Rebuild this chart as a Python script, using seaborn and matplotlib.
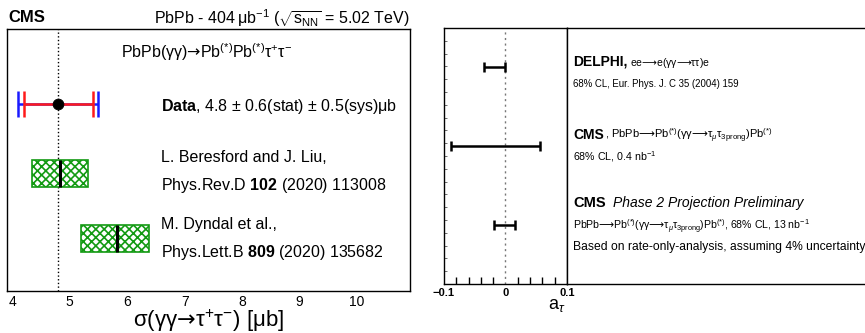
import matplotlib

matplotlib.use("Agg")

import matplotlib.pyplot as plt
import numpy as np
import pandas as pd
import seaborn as sns

# left panel: sigma(gamma gamma -> tau tau) in microbarn
DATA_LABEL = "Data"
DATA_VALUE = 4.8
DATA_STAT = [4.2, 5.4]
DATA_TOTAL = [4.1, 5.5]
THEORY_NAMES = ["Beresford-Liu", "Dyndal"]
THEORY_CENTRAL = [4.83, 5.82]
THEORY_LOW = [4.35, 5.2]
THEORY_HIGH = [5.32, 6.38]
SIGMA_TICKS = [4, 5, 6, 7, 8, 9, 10]

# right panel: a_tau 68% CL intervals
ATAU_NAMES = ["DELPHI", "CMS", "CMS Phase 2"]
ATAU_LOW = [-0.035, -0.088, -0.018]
ATAU_HIGH = [0.0, 0.056, 0.016]
ATAU_TICKS = [-0.1, 0.0, 0.1]
ATAU_TICKLABELS = ["\u22120.1", "0", "0.1"]

W, H = 865, 333
ARROW = "$\\mathsf{\u2192}$"  # DejaVu arrow, Liberation's one is tiny
LARROW = "$\\mathsf{\u27f6}$"


def fx(x):
    return x / W


def fy(y):
    return 1 - y / H


sns.set_theme(style="white")
plt.rcParams["font.family"] = ["Liberation Sans", "DejaVu Sans"]
plt.rcParams["mathtext.fontset"] = "custom"
plt.rcParams["mathtext.rm"] = "Liberation Sans"
plt.rcParams["mathtext.it"] = "Liberation Sans:italic"
plt.rcParams["mathtext.bf"] = "Liberation Sans:bold"
plt.rcParams["mathtext.sf"] = "DejaVu Sans"
plt.rcParams["hatch.linewidth"] = 1.2
for key in ["text.color", "axes.labelcolor", "xtick.color", "ytick.color"]:
    plt.rcParams[key] = "black"

fig = plt.figure(figsize=(W / 100, H / 100), dpi=100)

# ---------------- left panel ----------------
ax = fig.add_axes([fx(7), fy(291), fx(410 - 7), (291 - 29) / H])
row_y = {"data": 0.714, "Beresford-Liu": 0.448, "Dyndal": 0.200}
band_h = 0.103

ax.axvline(DATA_VALUE, color="black", ls=":", lw=1)

dy = row_y["data"]
ax.errorbar(
    [DATA_VALUE], [dy],
    xerr=[[DATA_VALUE - DATA_TOTAL[0]], [DATA_TOTAL[1] - DATA_VALUE]],
    fmt="none", ecolor="#1a1aff", elinewidth=1.8, capsize=9.5, capthick=1.8,
)
ax.errorbar(
    [DATA_VALUE], [dy],
    xerr=[[DATA_VALUE - DATA_STAT[0]], [DATA_STAT[1] - DATA_VALUE]],
    fmt="none", ecolor="#ff1a1a", elinewidth=1.8, capsize=9.5, capthick=1.8,
)
pt = pd.DataFrame({"sigma": [DATA_VALUE], "y": [dy]})
sns.scatterplot(data=pt, x="sigma", y="y", ax=ax, color="black", s=60,
                edgecolor="black", zorder=5, legend=False)

theory = pd.DataFrame({
    "name": THEORY_NAMES,
    "central": THEORY_CENTRAL,
    "low": THEORY_LOW,
    "high": THEORY_HIGH,
})
theory["y"] = theory["name"].map(row_y)
ax.barh(theory["y"], theory["high"] - theory["low"], left=theory["low"],
        height=band_h, facecolor="white", edgecolor="#139a13", hatch="xxxx",
        lw=1.2, zorder=3)
ax.vlines(theory["central"], theory["y"] - band_h / 2, theory["y"] + band_h / 2,
          color="black", lw=2.2, zorder=4)

ax.set_xlim(3.91, 10.92)
ax.set_ylim(0, 1)
ax.set_xticks(SIGMA_TICKS)
ax.set_yticks([])
ax.tick_params(axis="x", labelsize=10, length=0, pad=3)
ax.set_xlabel("\u03c3(\u03b3\u03b3" + ARROW + "\u03c4$^{+}$\u03c4$^{-}$) [\u03bcb]",
              fontsize=16, labelpad=-1)
ax.set_ylabel("")
for s in ax.spines.values():
    s.set_color("black")
    s.set_linewidth(1)

fig.text(fx(8), fy(18), "CMS", fontsize=12, fontweight="bold", va="center")
fig.text(fx(409), fy(18),
         "PbPb - 404\u2009\u03bcb$^{-1}$ ($\\sqrt{\\mathrm{s_{NN}}}$ = 5.02 TeV)",
         fontsize=11.5, ha="right", va="center")
fig.text(fx(207), fy(52),
         "PbPb(\u03b3\u03b3)" + ARROW + "Pb$^{(*)}$Pb$^{(*)}$\u03c4$^{+}$\u03c4$^{-}$",
         fontsize=11.5, ha="center", va="center")
fig.text(fx(161), fy(107),
         "$\\mathbf{Data}$, 4.8 \u00b1 0.6(stat) \u00b1 0.5(sys)\u03bcb",
         fontsize=11.5, va="center")
fig.text(fx(161), fy(158), "L. Beresford and J. Liu,", fontsize=11.5, va="center")
fig.text(fx(161), fy(186), "Phys.Rev.D $\\mathbf{102}$ (2020) 113008",
         fontsize=11.5, va="center")
fig.text(fx(161), fy(225), "M. Dyndal et al.,", fontsize=11.5, va="center")
fig.text(fx(161), fy(253), "Phys.Lett.B $\\mathbf{809}$ (2020) 135682",
         fontsize=11.5, va="center")

# ---------------- right panel ----------------
ax2 = fig.add_axes([fx(444), fy(284), fx(567 - 444), (284 - 28) / H])
arow_y = {"DELPHI": 0.848, "CMS": 0.539, "CMS Phase 2": 0.23}
lim = pd.DataFrame({"name": ATAU_NAMES, "low": ATAU_LOW, "high": ATAU_HIGH})
lim["mid"] = (lim["low"] + lim["high"]) / 2
lim["y"] = lim["name"].map(arow_y)
ax2.axvline(0, color="#777777", ls=(0, (1.5, 2.5)), lw=1)
ax2.errorbar(lim["mid"], lim["y"], xerr=(lim["high"] - lim["low"]) / 2,
             fmt="none", ecolor="black", elinewidth=1.8, capsize=3.5, capthick=1.8)
ax2.set_xlim(-0.1, 0.1)
ax2.set_ylim(0, 1)
ax2.set_xticks(ATAU_TICKS)
ax2.set_xticklabels(ATAU_TICKLABELS, fontweight="bold")
ax2.set_xticks(np.arange(-0.1, 0.1001, 0.02), minor=True)
ax2.set_yticks([])
ax2.set_yticks(np.linspace(0, 1, 21), minor=True)
ax2.tick_params(axis="x", which="major", direction="in", length=8, width=1,
                labelsize=8, pad=3, top=False)
ax2.tick_params(axis="x", which="minor", direction="in", length=5, width=1,
                bottom=True, top=False)
ax2.tick_params(axis="y", which="minor", direction="in", length=2.5, width=0.6,
                left=True, color="#555555")
ax2.set_xlabel("a$_{\\tau}$", fontsize=13, labelpad=0)
ax2.xaxis.set_label_coords(0.92, -0.05)
for s in ax2.spines.values():
    s.set_color("black")
    s.set_linewidth(1)

ax3 = fig.add_axes([fx(567), fy(284), 0.4, (284 - 28) / H])
ax3.set_xticks([])
ax3.set_yticks([])
ax3.spines["right"].set_visible(False)
for s in ax3.spines.values():
    s.set_color("black")
    s.set_linewidth(1)

tx = fx(573)
fig.text(tx, fy(66), "DELPHI,", fontsize=10, fontweight="bold", va="baseline")
fig.text(tx + 0.066, fy(66),
         "ee" + LARROW + "e(\u03b3\u03b3" + LARROW + "\u03c4\u03c4)e",
         fontsize=7.5, va="baseline")
fig.text(tx, fy(87), "68% CL, Eur. Phys. J. C 35 (2004) 159", fontsize=6.9,
         va="baseline")
fig.text(tx, fy(139), "CMS", fontsize=10, fontweight="bold", va="baseline")
fig.text(tx + 0.037, fy(139),
         ", PbPb" + LARROW + "Pb$^{(*)}$(\u03b3\u03b3" + LARROW
         + "\u03c4$_{\\mu}$\u03c4$_{3\\mathrm{prong}}$)Pb$^{(*)}$",
         fontsize=8, va="baseline")
fig.text(tx, fy(160), "68% CL, 0.4 nb$^{-1}$", fontsize=7.7, va="baseline")
fig.text(tx, fy(207), "CMS", fontsize=10.5, fontweight="bold", va="baseline")
fig.text(fx(613), fy(207), "Phase 2 Projection Preliminary", fontsize=10,
         style="italic", va="baseline")
fig.text(tx, fy(230),
         "PbPb" + LARROW + "Pb$^{(*)}$(\u03b3\u03b3" + LARROW
         + "\u03c4$_{\\mu}$\u03c4$_{3\\mathrm{prong}}$)Pb$^{(*)}$, 68% CL, 13 nb$^{-1}$",
         fontsize=7.6, va="baseline")
fig.text(tx, fy(250), "Based on rate-only-analysis, assuming 4% uncertainty",
         fontsize=8.7, va="baseline")

fig.savefig("out.png", dpi=100)
